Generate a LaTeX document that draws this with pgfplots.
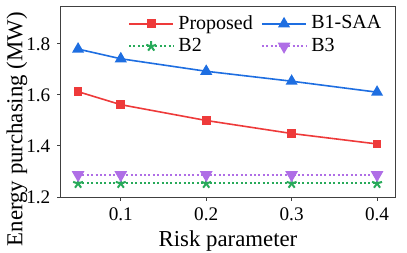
\documentclass[border=0pt]{standalone}
\usepackage{fontspec}
\setmainfont{Liberation Serif}
\usepackage{pgfplots}
\pgfplotsset{compat=1.18}
\definecolor{cred}{RGB}{238,58,58}
\definecolor{cblue}{RGB}{30,110,225}
\definecolor{cgreen}{RGB}{40,170,90}
\definecolor{cpurple}{RGB}{175,110,230}
\begin{document}
\begin{tikzpicture}
\begin{axis}[
  scale only axis,
  width=167pt, height=95pt,
  xmin=0.03, xmax=0.421,
  ymin=1.2, ymax=1.945,
  xtick={0.1,0.2,0.3,0.4},
  xticklabels={0.1,0.2,0.3,0.4},
  ytick={1.2,1.4,1.6,1.8},
  yticklabels={1.2,1.4,1.6,1.8},
  /pgf/number format/assume math mode=true,
  tick pos=left,
  tick align=outside,
  major tick length=1.8pt,
  axis line style={draw=black!75, line width=0.5pt},
  every tick/.style={black!75, line width=0.5pt},
  tick label style={font=\fontsize{9.6}{11}\selectfont},
  xlabel={Risk parameter},
  ylabel={Energy purchasing (MW)},
  label style={font=\fontsize{11.4}{13}\selectfont},
  xlabel style={yshift=2pt},
  ylabel style={at={(ticklabel cs:0.357)}, yshift=-7.3pt},
  legend columns=2,
  legend cell align=left,
  legend style={draw=none, fill=none, at={(0.99,1.0)}, anchor=north east,
    font=\fontsize{10}{12}\selectfont, row sep=-1pt,
    /tikz/every even column/.append style={column sep=2pt}},
  legend image code/.code={
    \draw[mark repeat=2,mark phase=2,#1] plot coordinates {(0cm,0cm) (0.39cm,0cm) (0.78cm,0cm)};
  },
]
\addplot[cred, line width=0.8pt, mark=square*, mark size=1.8pt, mark options={solid}]
  coordinates {(0.05,1.613) (0.1,1.562) (0.2,1.500) (0.3,1.449) (0.4,1.408)};
\addlegendentry{Proposed}
\addplot[cblue, line width=0.8pt, mark=triangle*, mark size=2.7pt, mark options={solid}]
  coordinates {(0.05,1.780) (0.1,1.742) (0.2,1.693) (0.3,1.654) (0.4,1.611)};
\addlegendentry{B1-SAA}
\addplot[cgreen, line width=1pt, dash pattern=on 1pt off 1.2pt, mark=star, mark size=2.6pt, mark options={solid, fill=cgreen, line width=1pt}]
  coordinates {(0.05,1.253) (0.1,1.253) (0.2,1.253) (0.3,1.253) (0.4,1.253)};
\addlegendentry{B2}
\addplot[cpurple, line width=1pt, dash pattern=on 1pt off 1.2pt, mark=triangle*, mark size=2.7pt, mark options={solid, rotate=180}]
  coordinates {(0.05,1.287) (0.1,1.287) (0.2,1.287) (0.3,1.287) (0.4,1.287)};
\addlegendentry{B3}
\end{axis}
\pgfresetboundingbox
\path ([shift={(-30.5pt,-27.5pt)}]current axis.south west) rectangle ([shift={(6pt,3.5pt)}]current axis.north east);
\end{tikzpicture}
\end{document}
